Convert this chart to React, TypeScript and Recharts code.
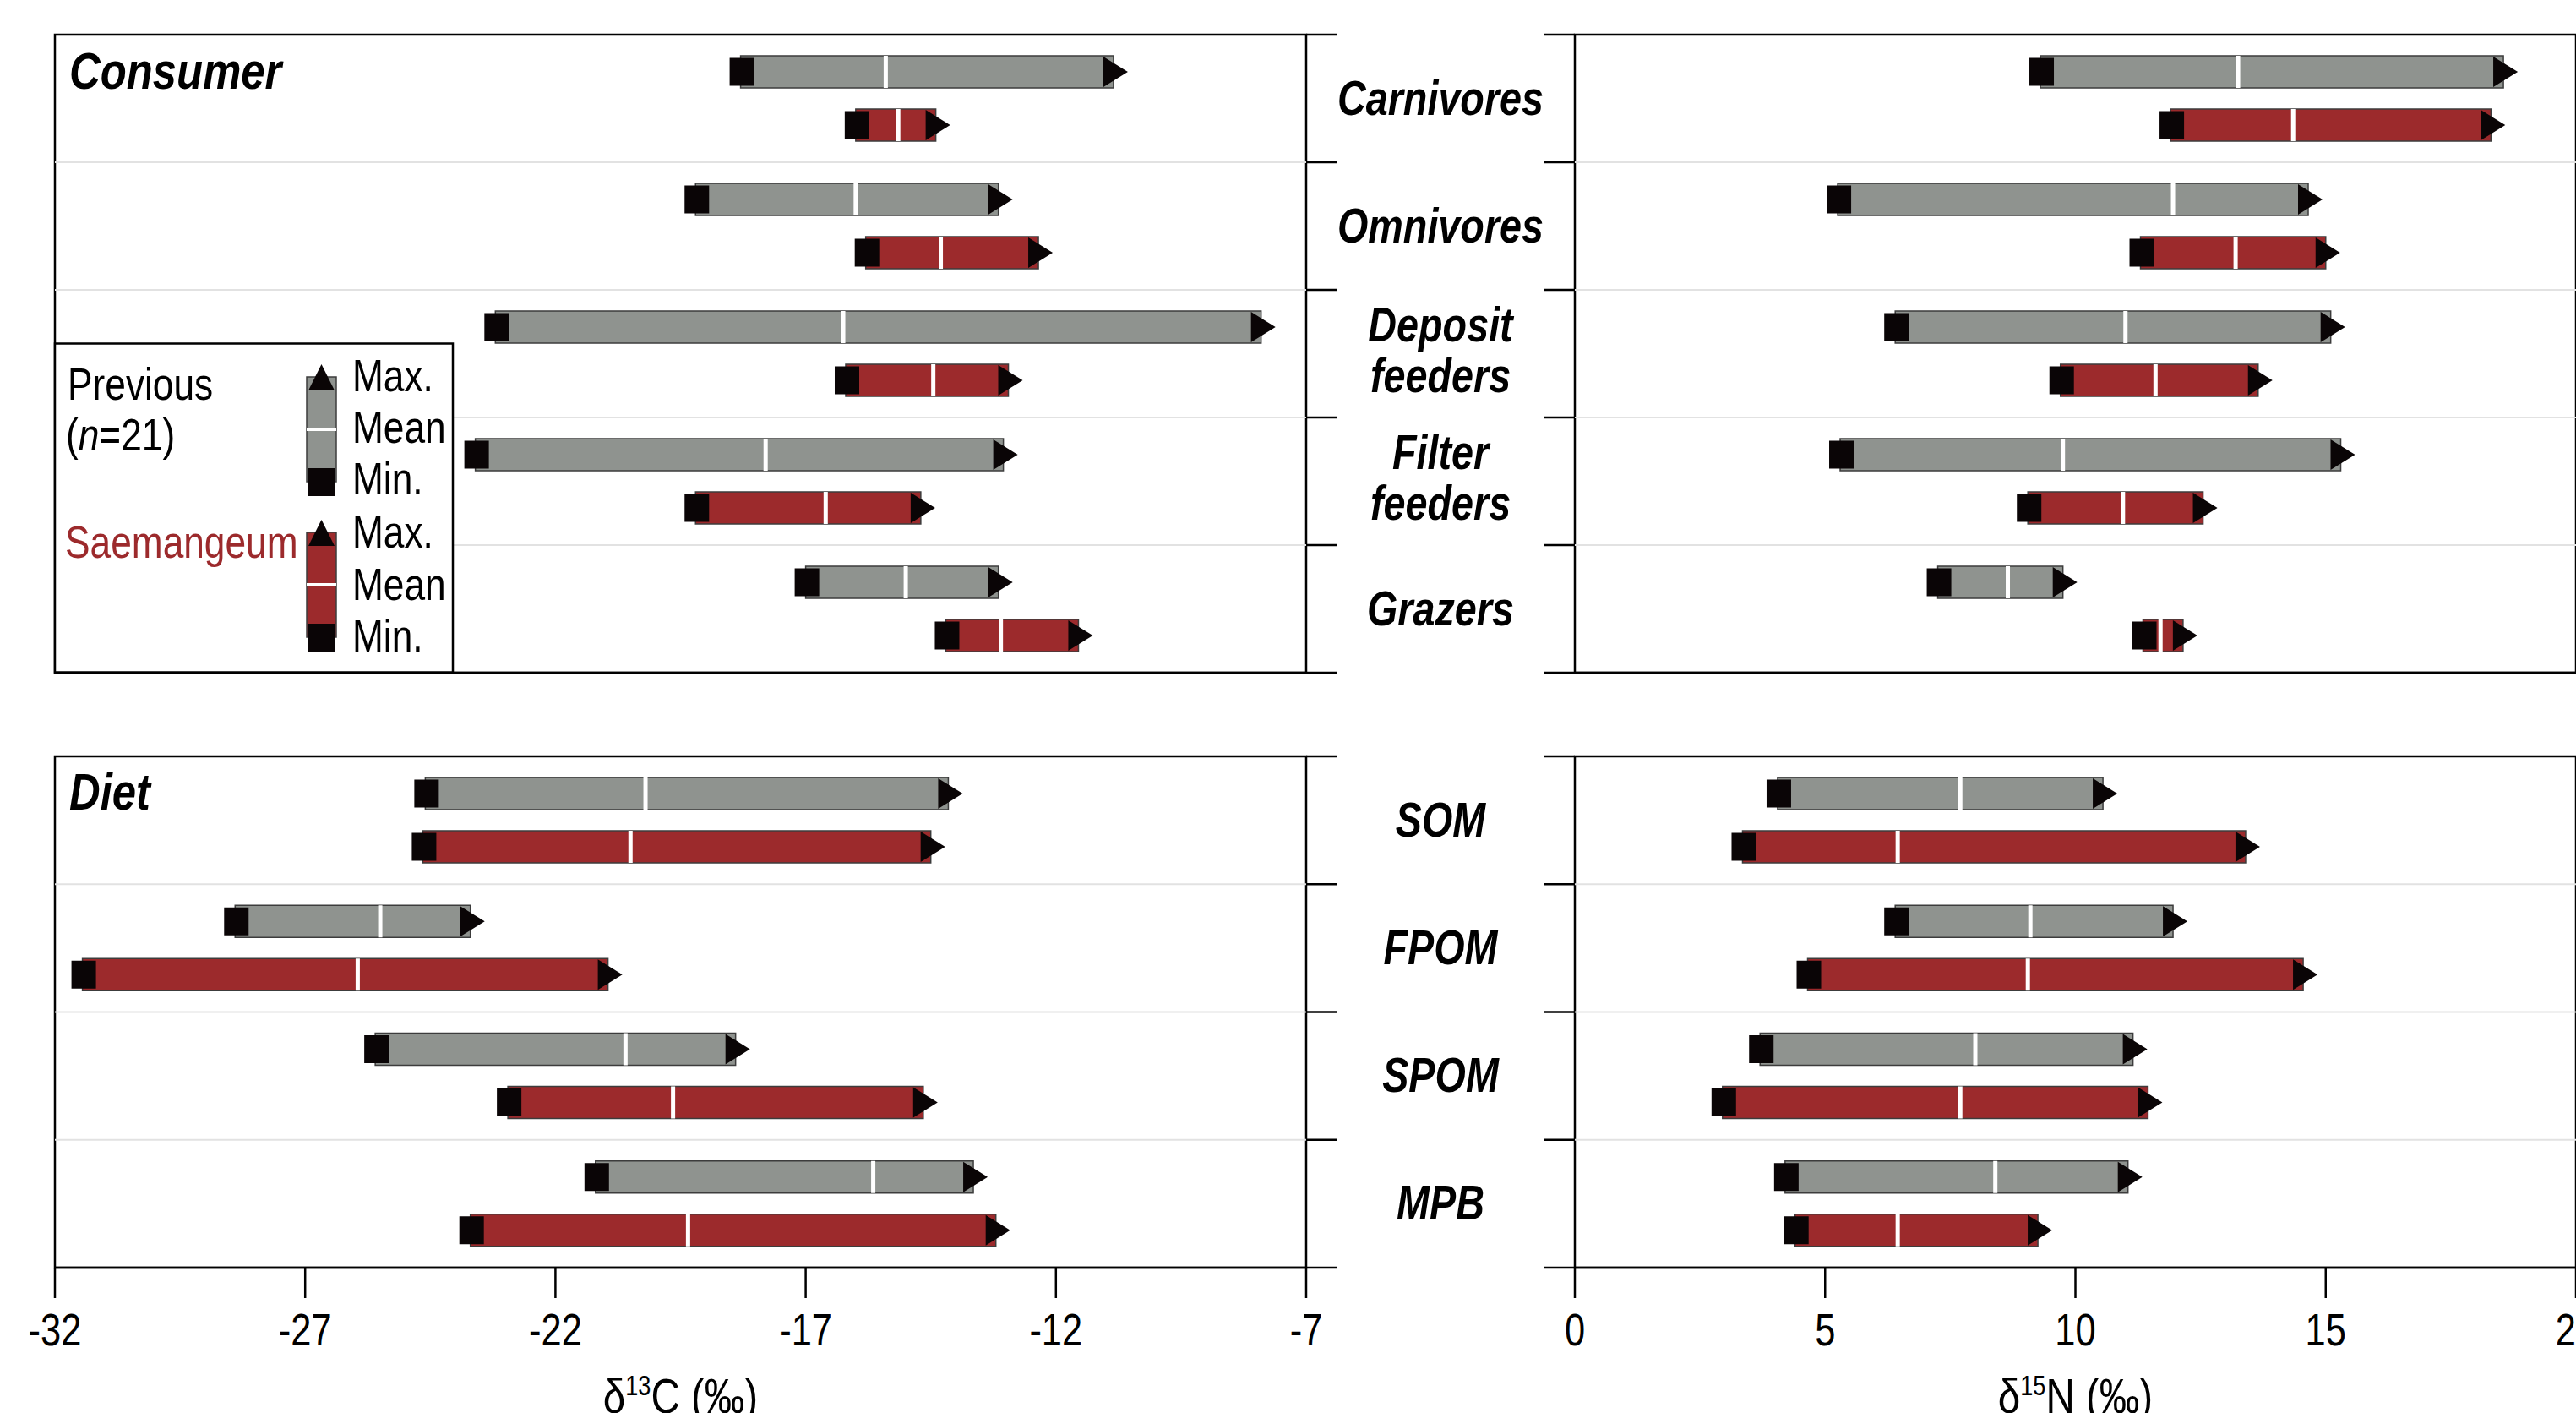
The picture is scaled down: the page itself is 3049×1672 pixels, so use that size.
import React from "react";
import { BarChart, Bar, XAxis, YAxis, ReferenceArea } from "recharts";

const FONT = "'Liberation Sans', Arial, Helvetica, sans-serif";
const SQUEEZE = 0.82; // Arial scaled down ≈ Helvetica Narrow look
const GREY = "#8f938f";
const RED = "#9c2a2c";
const INK = "#0a0506";

const consumerGroups = ["Carnivores", "Omnivores", "Deposit\nfeeders", "Filter\nfeeders", "Grazers"];
const dietSources = ["SOM", "FPOM", "SPOM", "MPB"];

const carbonTicks = [-32, -27, -22, -17, -12, -7];
const nitrogenTicks = [0, 5, 10, 15, 20];

// consumers, d13C
const consC_prevMin = [-18.3, -19.2, -23.2, -23.6, -17.0];
const consC_prevMean = [-15.4, -16.0, -16.25, -17.8, -15.0];
const consC_prevMax = [-10.85, -13.15, -7.9, -13.05, -13.15];
const consC_saeMin = [-16.0, -15.8, -16.2, -19.2, -14.2];
const consC_saeMean = [-15.15, -14.3, -14.45, -16.6, -13.1];
const consC_saeMax = [-14.4, -12.35, -12.95, -14.7, -11.55];

// consumers, d15N
const consN_prevMin = [9.3, 5.25, 6.4, 5.3, 7.25];
const consN_prevMean = [13.25, 11.95, 11.0, 9.75, 8.65];
const consN_prevMax = [18.55, 14.65, 15.1, 15.3, 9.75];
const consN_saeMin = [11.9, 11.3, 9.7, 9.05, 11.35];
const consN_saeMean = [14.35, 13.2, 11.6, 10.95, 11.7];
const consN_saeMax = [18.3, 15.0, 13.65, 12.55, 12.15];

// diet, d13C
const dietC_prevMin = [-24.6, -28.4, -25.6, -21.2];
const dietC_prevMean = [-20.2, -25.5, -20.6, -15.65];
const dietC_prevMax = [-14.15, -23.7, -18.4, -13.65];
const dietC_saeMin = [-24.65, -31.45, -22.95, -23.7];
const dietC_saeMean = [-20.5, -25.95, -19.65, -19.35];
const dietC_saeMax = [-14.5, -20.95, -14.65, -13.2];

// diet, d15N
const dietN_prevMin = [4.05, 6.4, 3.7, 4.2];
const dietN_prevMean = [7.7, 9.1, 8.0, 8.4];
const dietN_prevMax = [10.55, 11.95, 11.15, 11.05];
const dietN_saeMin = [3.35, 4.65, 2.95, 4.4];
const dietN_saeMean = [6.45, 9.05, 7.7, 6.45];
const dietN_saeMax = [13.4, 14.55, 11.45, 9.25];

function buildRows(names, pMin, pMean, pMax, sMin, sMean, sMax) {
  return names.map((name, i) => ({
    name,
    prev: [pMin[i], pMax[i]],
    prevMean: pMean[i],
    sae: [sMin[i], sMax[i]],
    saeMean: sMean[i],
  }));
}

// narrow text: anchor at (x, y), squeezed horizontally
function NText({ x, y, anchor = "start", size, bold = false, italic = false, fill = "#000", children }) {
  return (
    <text
      transform={`translate(${x},${y}) scale(${SQUEEZE},1)`}
      textAnchor={anchor}
      fontFamily={FONT}
      fontSize={size}
      fontWeight={bold ? "bold" : "normal"}
      fontStyle={italic ? "italic" : "normal"}
      fill={fill}
    >
      {children}
    </text>
  );
}

function RangeShape(props) {
  const { x, y, width, height, payload, color, rangeKey, meanKey } = props;
  if (!payload) return <g />;
  const [lo, hi] = payload[rangeKey];
  const left = Math.min(x, x + width);
  const w = Math.abs(width);
  const right = left + w;
  const mx = left + (w * (payload[meanKey] - lo)) / (hi - lo);
  return (
    <g>
      <rect x={left} y={y} width={w} height={height} fill={color} stroke="#3c3c3c" strokeWidth={1.5} />
      <rect x={mx - 2.5} y={y} width={5} height={height} fill="#fff" />
      <rect x={left - 13} y={y + 2.5} width={29} height={height - 5} fill={INK} />
      <polygon
        points={`${right - 12},${y + 1} ${right + 17},${y + height / 2} ${right - 12},${y + height - 1}`}
        fill={INK}
      />
    </g>
  );
}

// category tick: boundary ticks, row separators and (optionally) the group label
function RowTick(props) {
  const { x, y, index, payload, side, band, count, plotWidth, showLabels, gap } = props;
  const top = y - band / 2;
  const bottom = y + band / 2;
  const lines = String(payload.value).split("\n");
  const base = lines.length === 1 ? [y + 19] : [y - 15, y + 45];
  return (
    <g>
      {index > 0 && <line x1={x} x2={x - side * plotWidth} y1={top} y2={top} stroke="#e2e2e2" strokeWidth={2} />}
      <line x1={x} x2={x + side * 37} y1={top} y2={top} stroke="#000" strokeWidth={2.5} />
      {index === count - 1 && <line x1={x} x2={x + side * 37} y1={bottom} y2={bottom} stroke="#000" strokeWidth={2.5} />}
      {showLabels &&
        lines.map((l, i) => (
          <NText key={i} x={x + gap / 2} y={base[i]} anchor="middle" size={57} bold italic>
            {l}
          </NText>
        ))}
    </g>
  );
}

function ValueTick({ x, y, payload }) {
  return (
    <NText x={x} y={y + 38} anchor="middle" size={53}>
      {payload.value}
    </NText>
  );
}

function AxisTitle({ viewBox, sup, letter }) {
  const cx = viewBox.x + viewBox.width / 2;
  return (
    <text
      transform={`translate(${cx},${viewBox.y + 172}) scale(${SQUEEZE},1)`}
      textAnchor="middle"
      fontFamily={FONT}
      fontSize={58}
      fill="#000"
    >
      <tspan>δ</tspan>
      <tspan fontSize={33} dy={-21}>
        {sup}
      </tspan>
      <tspan dy={21}>{letter} (‰)</tspan>
    </text>
  );
}

function Panel({ rows, domain, ticks, side, marginLeft, marginRight, chartWidth, plotWidth, top, plotHeight, showTickLabels, showLabels, title }) {
  const n = rows.length;
  const band = plotHeight / n;
  const xAxisHeight = showTickLabels ? 172 : 40;
  const gap = 318;
  return (
    <div style={{ position: "absolute", left: 0, top: 0 }}>
      <BarChart
        width={chartWidth}
        height={1672}
        data={rows}
        layout="vertical"
        barSize={38}
        barGap={25}
        margin={{ top, left: marginLeft, right: marginRight, bottom: 1672 - top - plotHeight - xAxisHeight }}
      >
        <XAxis
          type="number"
          domain={domain}
          ticks={ticks}
          allowDataOverflow
          height={xAxisHeight}
          tickSize={36}
          tickMargin={18}
          interval={0}
          axisLine={{ stroke: "#000", strokeWidth: 2.5 }}
          tickLine={{ stroke: "#000", strokeWidth: 2.5 }}
          tick={showTickLabels ? (p) => <ValueTick {...p} /> : false}
          label={showTickLabels ? { content: (p) => <AxisTitle viewBox={p.viewBox} sup={title.sup} letter={title.letter} /> } : undefined}
        />
        <YAxis
          type="category"
          dataKey="name"
          orientation={side > 0 ? "right" : "left"}
          width={side > 0 ? gap : 37}
          interval={0}
          tickSize={0}
          tickMargin={0}
          tickLine={false}
          axisLine={false}
          tick={(p) => (
            <RowTick {...p} side={side} band={band} count={n} plotWidth={plotWidth} showLabels={showLabels} gap={gap} />
          )}
        />
        <ReferenceArea x1={domain[0]} x2={domain[1]} fill="none" stroke="#000" strokeWidth={2.5} />
        <Bar dataKey="prev" isAnimationActive={false} shape={(p) => <RangeShape {...p} color={GREY} rangeKey="prev" meanKey="prevMean" />} />
        <Bar dataKey="sae" isAnimationActive={false} shape={(p) => <RangeShape {...p} color={RED} rangeKey="sae" meanKey="saeMean" />} />
      </BarChart>
    </div>
  );
}

function LegendSymbol({ top, color }) {
  return (
    <g>
      <rect x={363} y={top + 15} width={35} height={124} fill={color} stroke="#3c3c3c" strokeWidth={1.5} />
      <rect x={363} y={top + 75} width={35} height={4} fill="#fff" />
      <polygon points={`380.5,${top} 396,${top + 31} 365,${top + 31}`} fill={INK} />
      <rect x={365} y={top + 123} width={31} height={33} fill={INK} />
    </g>
  );
}

function Overlay() {
  return (
    <svg width={3049} height={1672} style={{ position: "absolute", left: 0, top: 0 }}>
      <NText x={82} y={105} size={62} bold italic>
        Consumer
      </NText>
      <NText x={82} y={958} size={62} bold italic>
        Diet
      </NText>
      <rect x={65} y={406.5} width={471} height={389} fill="#fff" stroke="#000" strokeWidth={2.5} />
      <NText x={80} y={473} size={54}>
        Previous
      </NText>
      <NText x={78} y={533} size={54}>
        (<tspan fontStyle="italic">n</tspan>=21)
      </NText>
      <NText x={77} y={660} size={54} fill={RED}>
        Saemangeum
      </NText>
      <LegendSymbol top={431} color={GREY} />
      <LegendSymbol top={615} color={RED} />
      <NText x={417} y={463} size={54}>Max.</NText>
      <NText x={417} y={524} size={54}>Mean</NText>
      <NText x={417} y={585} size={54}>Min.</NText>
      <NText x={417} y={648} size={54}>Max.</NText>
      <NText x={417} y={710} size={54}>Mean</NText>
      <NText x={417} y={771} size={54}>Min.</NText>
    </svg>
  );
}

export default function App() {
  const consC = buildRows(consumerGroups, consC_prevMin, consC_prevMean, consC_prevMax, consC_saeMin, consC_saeMean, consC_saeMax);
  const consN = buildRows(consumerGroups, consN_prevMin, consN_prevMean, consN_prevMax, consN_saeMin, consN_saeMean, consN_saeMax);
  const dietC = buildRows(dietSources, dietC_prevMin, dietC_prevMean, dietC_prevMax, dietC_saeMin, dietC_saeMean, dietC_saeMax);
  const dietN = buildRows(dietSources, dietN_prevMin, dietN_prevMean, dietN_prevMax, dietN_saeMin, dietN_saeMean, dietN_saeMax);

  const left = { domain: [-32, -7], ticks: carbonTicks, side: 1, marginLeft: 65, marginRight: 3049 - 1546 - 318, chartWidth: 3049, plotWidth: 1481 };
  const right = { domain: [0, 20], ticks: nitrogenTicks, side: -1, marginLeft: 1827, marginRight: 51, chartWidth: 3100, plotWidth: 1185 };

  return (
    <div style={{ position: "absolute", left: 0, top: 0, width: 3049, height: 1672, overflow: "hidden", background: "#fff" }}>
      <Panel {...left} rows={consC} showLabels top={41} plotHeight={755} showTickLabels={false} />
      <Panel {...right} rows={consN} showLabels={false} top={41} plotHeight={755} showTickLabels={false} />
      <Panel {...left} rows={dietC} showLabels top={895} plotHeight={605} showTickLabels title={{ sup: "13", letter: "C" }} />
      <Panel {...right} rows={dietN} showLabels={false} top={895} plotHeight={605} showTickLabels title={{ sup: "15", letter: "N" }} />
      <Overlay />
    </div>
  );
}
